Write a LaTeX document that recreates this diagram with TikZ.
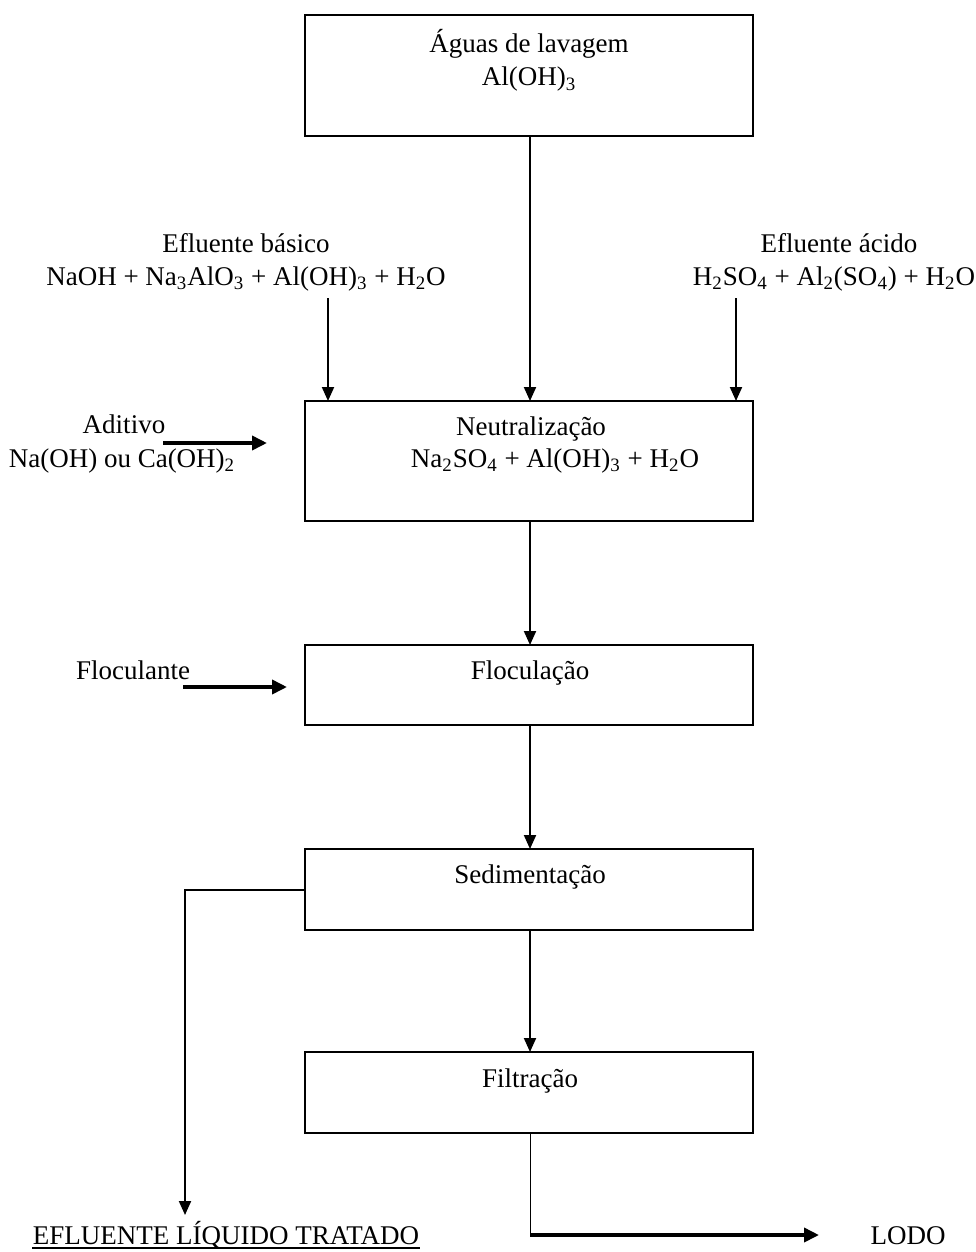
\documentclass[tikz,border=0pt]{standalone}
\usepackage{fontspec}
\setmainfont{Liberation Serif}
\usetikzlibrary{arrows.meta}
\newcommand{\sbs}[1]{\textsubscript{#1}}
\begin{document}
\begin{tikzpicture}[x=0.5pt,y=-0.5pt,
  box/.style={draw,line width=1pt,inner sep=0pt,outer sep=0pt,minimum width=224pt},
  lbl/.style={font=\fontsize{13.5}{16}\selectfont,inner sep=0pt,anchor=base},
  flow/.style={line width=1pt,-{Triangle[length=7pt,width=6pt]}},
  feed/.style={line width=1.8pt,-{Triangle[length=7.5pt,width=7pt]}},
  thinline/.style={line width=0.5pt}]
\useasboundingbox (0,0) rectangle (975,1252);

% boxes
\node[box,minimum height=60.5pt] (top) at (529,75.5) {};
\node[box,minimum height=60pt] (neut) at (529,461) {};
\node[box,minimum height=40pt] (floc) at (529,685) {};
\node[box,minimum height=40.5pt] (sed) at (529,889.5) {};
\node[box,minimum height=40.5pt] (filt) at (529,1092.5) {};

% box texts
\node[lbl] (t1) at (529,53) {Águas de lavagem};
\node[lbl] (t2) at (529,86) {Al(OH)\sbs{3}};
\node[lbl] (n1) at (531,435) {Neutralização};
\node[lbl] (n2) at (555,467) {Na\sbs{2}SO\sbs{4} + Al(OH)\sbs{3} + H\sbs{2}O};
\node[lbl] (f1) at (530,679) {Floculação};
\node[lbl] (s1) at (530,883) {Sedimentação};
\node[lbl] (fi1) at (530,1087) {Filtração};

% side labels
\node[lbl] (b1) at (246,252) {Efluente básico};
\node[lbl] (b2) at (246,285) {NaOH + Na\sbs{3}AlO\sbs{3} + Al(OH)\sbs{3} + H\sbs{2}O};
\node[lbl] (a1) at (839,252) {Efluente ácido};
\node[lbl] (a2) at (834,285) {H\sbs{2}SO\sbs{4} + Al\sbs{2}(SO\sbs{4}) + H\sbs{2}O};
\node[lbl] (ad1) at (124,433) {Aditivo};
\node[lbl] (ad2) at (122,467) {Na(OH) ou Ca(OH)\sbs{2}};
\node[lbl] (fl) at (133,679) {Floculante};
\node[lbl] (ef) at (226,1244) {EFLUENTE LÍQUIDO TRATADO};
\node[lbl] (lodo) at (908,1244) {LODO};
\draw[line width=0.6pt] ([yshift=-2pt]ef.base west) -- ([yshift=-2pt]ef.base east);

% coordinates
\coordinate (bs) at (328,298);
\coordinate (as) at (736,298);
\coordinate (ads) at (163,443);
\coordinate (ade) at (267,443);
\coordinate (fls) at (183,687);
\coordinate (fle) at (287,687);
\coordinate (sc) at (185,889.5);
\coordinate (se) at (185,1215);
\coordinate (fc) at (530,1235);
\coordinate (fe) at (819,1235);

% connectors
\draw[flow] (top.south -| 530,0) -- (neut.north -| 530,0);
\draw[flow] (bs) -- (bs |- neut.north);
\draw[flow] (as) -- (as |- neut.north);
\draw[feed] (ads) -- (ade);
\draw[flow] (neut.south -| 530,0) -- (floc.north -| 530,0);
\draw[feed] (fls) -- (fle);
\draw[flow] (floc.south -| 530,0) -- (sed.north -| 530,0);
\draw[flow] (sed.south -| 530,0) -- (filt.north -| 530,0);
\draw[flow] (sed.west) -- (sc) -- (se);
\draw[thinline] (filt.south -| 530,0) -- (fc);
\draw[feed] (fc) -- (fe);
\end{tikzpicture}
\end{document}
